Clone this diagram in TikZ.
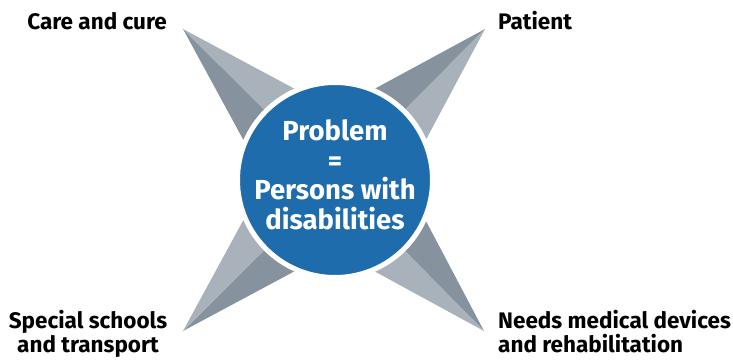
\documentclass[tikz,border=0pt]{standalone}
\usepackage{fontspec}
\setmainfont{Fira Sans}
\usetikzlibrary{calc}

\definecolor{probblue}{HTML}{1E6CAB}
\definecolor{armlight}{HTML}{A9B1BA}
\definecolor{armdark}{HTML}{86929E}

\begin{document}
\begin{tikzpicture}[x=1pt,y=-1pt,
                    lbl/.style={font=\bfseries\fontsize{22.5}{23.5}\selectfont, inner sep=0pt},
                    problem/.style={circle, fill=probblue, draw=white, line width=5pt,
                                    minimum size=195pt, inner sep=0pt},
                    probtxt/.style={align=center, text=white, inner sep=0pt,
                                    font=\bfseries\fontsize{27.5}{29.5}\selectfont}]
                    \useasboundingbox (0,0) rectangle (733,361);
                    \coordinate (ctr) at (335,180);
                    \coordinate (tl) at (183,29);
                    \coordinate (tr) at (485,29);
                    \coordinate (br) at (484,331);
                    \coordinate (bl) at (183,331);
                    % the four arms, light face on the clockwise side
                    \foreach \Tip in {tl,tr,br,bl}
                    {
                        \fill[armdark] (\Tip) -- ($(ctr)!64pt!90:(\Tip)$) -- (ctr) -- cycle;
                        \fill[armlight] (\Tip) -- ($(ctr)!64pt!-90:(\Tip)$) -- (ctr) -- cycle;
                    }
                    \node[problem] (prob) at (ctr) {};
                    \node[probtxt] (probtext) at ($(prob)+(0,-5)$) {Problem\\=\\Persons with\\disabilities};
                    \node[lbl, anchor=base east] (care) at (167,30) {Care and cure};
                    \node[lbl, anchor=base west] (patient) at (498,30) {Patient};
                    \node[lbl, anchor=base, align=center] (school) at (88,352) {Special schools\\and transport};
                    \node[lbl, anchor=base west, align=left] (needs) at (498,352) {Needs medical devices\\and rehabilitation};
                \end{tikzpicture}
\end{document}
